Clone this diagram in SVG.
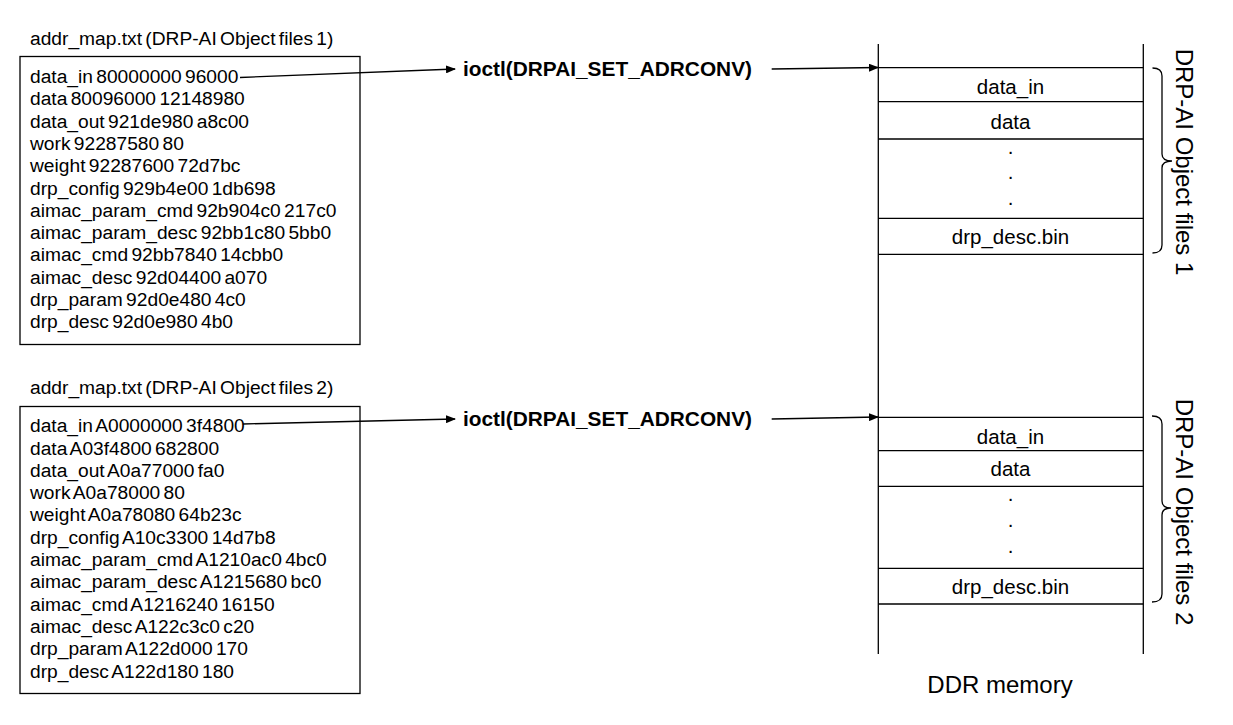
<svg xmlns="http://www.w3.org/2000/svg" width="1233" height="725" viewBox="0 0 1233 725">
<style>
text{font-family:"Liberation Sans",Arial,sans-serif;fill:#000}
.t{font-size:19.2px;word-spacing:-2px}
.b{font-size:20px;font-weight:bold}
.m{font-size:20.5px;text-anchor:middle}
.v{font-size:24px;text-anchor:middle}
.ln{stroke:#000;stroke-width:1.3;fill:none}
.box{fill:#fff;stroke:#000;stroke-width:1.3}
.ar{stroke:#000;stroke-width:1.3;fill:none;marker-end:url(#ah)}
</style>
<defs>
<marker id="ah" markerWidth="10" markerHeight="8" refX="9" refY="4" orient="auto" markerUnits="userSpaceOnUse">
<path d="M0,0 L10,4 L0,8 Z" fill="#000"/>
</marker>
</defs>
<rect width="1233" height="725" fill="#fff"/>
<g id="addrmap1">
<text class="t" x="30" y="45">addr_map.txt (DRP-AI Object files 1)</text>
<rect class="box" x="20" y="56.5" width="340" height="288"/>
<text class="t" x="30" y="83">data_in 80000000 96000</text>
<text class="t" x="30" y="105.3">data 80096000 12148980</text>
<text class="t" x="30" y="127.6">data_out 921de980 a8c00</text>
<text class="t" x="30" y="149.9">work 92287580 80</text>
<text class="t" x="30" y="172.2">weight 92287600 72d7bc</text>
<text class="t" x="30" y="194.5">drp_config 929b4e00 1db698</text>
<text class="t" x="30" y="216.8">aimac_param_cmd 92b904c0 217c0</text>
<text class="t" x="30" y="239.1">aimac_param_desc 92bb1c80 5bb0</text>
<text class="t" x="30" y="261.4">aimac_cmd 92bb7840 14cbb0</text>
<text class="t" x="30" y="283.7">aimac_desc 92d04400 a070</text>
<text class="t" x="30" y="306">drp_param 92d0e480 4c0</text>
<text class="t" x="30" y="328.3">drp_desc 92d0e980 4b0</text>
</g>
<g id="addrmap2">
<text class="t" x="30" y="394">addr_map.txt (DRP-AI Object files 2)</text>
<rect class="box" x="20" y="406.5" width="340" height="287"/>
<text class="t" x="30" y="432">data_in A0000000 3f4800</text>
<text class="t" x="30" y="454.5">data A03f4800 682800</text>
<text class="t" x="30" y="476.8">data_out A0a77000 fa0</text>
<text class="t" x="30" y="499.1">work A0a78000 80</text>
<text class="t" x="30" y="521.4">weight A0a78080 64b23c</text>
<text class="t" x="30" y="543.7">drp_config A10c3300 14d7b8</text>
<text class="t" x="30" y="566">aimac_param_cmd A1210ac0 4bc0</text>
<text class="t" x="30" y="588.3">aimac_param_desc A1215680 bc0</text>
<text class="t" x="30" y="610.6">aimac_cmd A1216240 16150</text>
<text class="t" x="30" y="632.9">aimac_desc A122c3c0 c20</text>
<text class="t" x="30" y="655.2">drp_param A122d000 170</text>
<text class="t" x="30" y="677.5">drp_desc A122d180 180</text>
</g>
<g id="ioctl1">
<text class="b" x="463" y="76" textLength="289" lengthAdjust="spacingAndGlyphs">ioctl(DRPAI_SET_ADRCONV)</text>
</g>
<g id="ioctl2">
<text class="b" x="463" y="426" textLength="289" lengthAdjust="spacingAndGlyphs">ioctl(DRPAI_SET_ADRCONV)</text>
</g>
<g id="ddr">
<line class="ln" x1="878.3" y1="44" x2="878.3" y2="654"/>
<line class="ln" x1="1143.3" y1="44" x2="1143.3" y2="654"/>
<line class="ln" x1="878.3" y1="67.7" x2="1143.3" y2="67.7"/>
<line class="ln" x1="878.3" y1="101.7" x2="1143.3" y2="101.7"/>
<line class="ln" x1="878.3" y1="139" x2="1143.3" y2="139"/>
<line class="ln" x1="878.3" y1="218.3" x2="1143.3" y2="218.3"/>
<line class="ln" x1="878.3" y1="254.3" x2="1143.3" y2="254.3"/>
<line class="ln" x1="878.3" y1="417.3" x2="1143.3" y2="417.3"/>
<line class="ln" x1="878.3" y1="450.7" x2="1143.3" y2="450.7"/>
<line class="ln" x1="878.3" y1="486.3" x2="1143.3" y2="486.3"/>
<line class="ln" x1="878.3" y1="568.3" x2="1143.3" y2="568.3"/>
<line class="ln" x1="878.3" y1="604" x2="1143.3" y2="604"/>
<text class="m" x="1010.5" y="93.5">data_in</text>
<text class="m" x="1010.5" y="129">data</text>
<text class="m" x="1010.5" y="154">.</text>
<text class="m" x="1010.5" y="179">.</text>
<text class="m" x="1010.5" y="205">.</text>
<text class="m" x="1010.5" y="244">drp_desc.bin</text>
<text class="m" x="1010.5" y="443.5">data_in</text>
<text class="m" x="1010.5" y="476">data</text>
<text class="m" x="1010.5" y="501">.</text>
<text class="m" x="1010.5" y="527">.</text>
<text class="m" x="1010.5" y="553">.</text>
<text class="m" x="1010.5" y="594">drp_desc.bin</text>
<text x="1000" y="693" style="font-size:24px;text-anchor:middle">DDR memory</text>
</g>
<g id="group1">
<path class="ln" d="M1152.5,68 Q1162,68 1162,76 L1162,154 Q1162,161 1172,161 Q1162,161 1162,168 L1162,245 Q1162,253 1152.5,253"/>
<text class="v" transform="translate(1176,162) rotate(90)">DRP-AI Object files 1</text>
</g>
<g id="group2">
<path class="ln" d="M1152,416 Q1162,416 1162,424 L1162,501 Q1162,508 1171,508 Q1162,508 1162,515 L1162,594 Q1162,602 1152,602"/>
<text class="v" transform="translate(1176,512) rotate(90)">DRP-AI Object files 2</text>
</g>
<g id="connectors">
<line class="ar" x1="240" y1="77.5" x2="455" y2="69"/>
<line class="ar" x1="771.7" y1="69" x2="878" y2="67.5"/>
<line class="ar" x1="243" y1="424" x2="455" y2="419"/>
<line class="ar" x1="771.7" y1="419" x2="878" y2="417"/>
</g>
</svg>
